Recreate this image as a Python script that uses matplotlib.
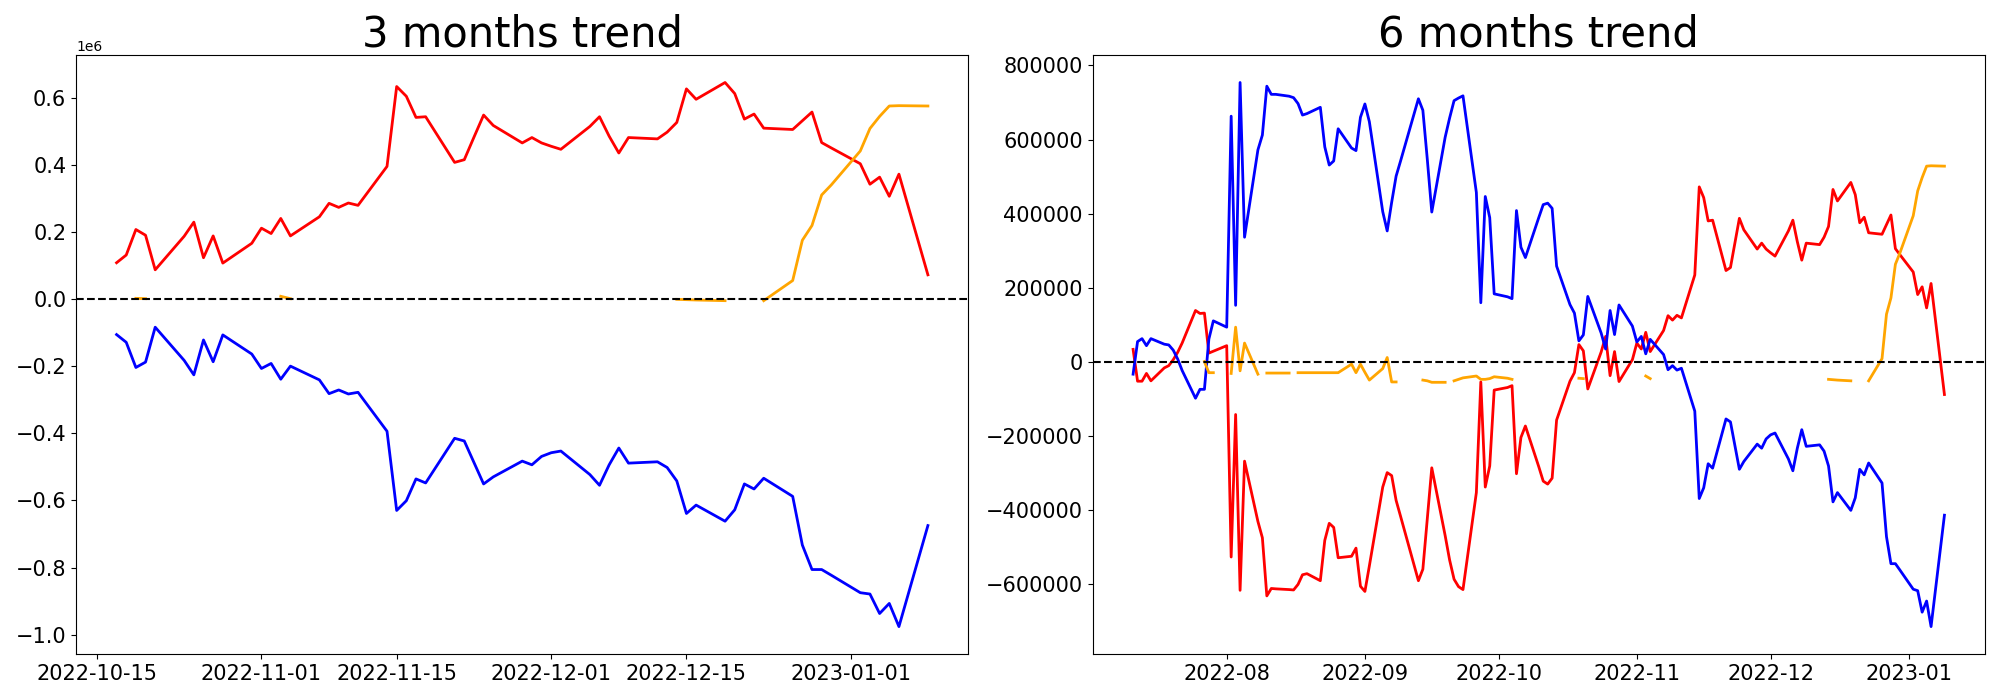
import numpy as np
import pandas as pd
import matplotlib
matplotlib.use("Agg")
import matplotlib.pyplot as plt

nan = np.nan

# 3 months window: every weekday from 2022-10-17 to 2023-01-09
dates_3m = pd.bdate_range("2022-10-17", "2023-01-09")

red_3m = [
    108000, 131000, 207000, 190000, 87000,
    187000, 229000, 123000, 188000, 107000,
    166000, 211000, 195000, 240000, 188000,
    245000, 285000, 273000, 286000, 279000,
    395000, 633000, 604000, 541000, 543000,
    407000, 415000, 482000, 548000, 517000,
    465000, 481000, 465000, 455000, 446000,
    514000, 543000, 485000, 435000, 481000,
    477000, 497000, 526000, 626000, 595000,
    645000, 612000, 536000, 551000, 509000,
    505000, 531000, 557000, 466000, 450000,
    403000, 342000, 363000, 306000, 372000,
    72000,
]
blue_3m = [
    -106000, -129000, -204000, -188000, -84000,
    -183000, -226000, -122000, -187000, -107000,
    -164000, -207000, -192000, -239000, -200000,
    -241000, -282000, -271000, -283000, -278000,
    -394000, -630000, -601000, -536000, -548000,
    -415000, -423000, -487000, -551000, -530000,
    -483000, -494000, -469000, -458000, -453000,
    -523000, -555000, -494000, -444000, -489000,
    -485000, -502000, -542000, -639000, -614000,
    -662000, -628000, -551000, -566000, -534000,
    -588000, -733000, -806000, -806000, -823000,
    -875000, -879000, -937000, -907000, -976000,
    -675000,
]
orange_3m = [
    nan, nan, 2000, 1000, nan,
    nan, nan, nan, nan, nan,
    nan, nan, nan, 8000, 1000,
    nan, nan, nan, nan, nan,
    nan, nan, nan, nan, nan,
    nan, nan, nan, nan, nan,
    nan, nan, nan, nan, nan,
    nan, nan, nan, nan, nan,
    nan, nan, -1000, -2000, -3000,
    -5000, nan, nan, nan, -5000,
    55000, 175000, 219000, 310000, 340000,
    441000, 508000, 544000, 575000, 576000,
    575000,
]

# 6 months window: every weekday from 2022-07-11 to 2023-01-09
dates_6m = pd.bdate_range("2022-07-11", "2023-01-09")

red_6m = [
    33000, -53000, -53000, -32000, -52000,
    -17000, -11000, 5000, 25000, 50000,
    138000, 130000, 131000, 23000, 28000,
    43000, -528000, -143000, -618000, -269000,
    -432000, -476000, -633000, -613000, -614000,
    -616000, -617000, -602000, -576000, -573000,
    -592000, -483000, -437000, -448000, -530000,
    -526000, -504000, -607000, -621000, -552000,
    -339000, -300000, -308000, -375000, -418000,
    -549000, -592000, -561000, -424000, -287000,
    -470000, -536000, -588000, -608000, -616000,
    -354000, -55000, -339000, -282000, -77000,
    -70000, -65000, -303000, -205000, -174000,
    -284000, -323000, -331000, -315000, -158000,
    -53000, -30000, 46000, 29000, -74000,
    26000, 68000, -38000, 27000, -54000,
    5000, 50000, 34000, 79000, 27000,
    84000, 124000, 112000, 125000, 118000,
    234000, 472000, 443000, 380000, 382000,
    246000, 254000, 321000, 387000, 356000,
    304000, 320000, 304000, 294000, 285000,
    353000, 382000, 324000, 274000, 320000,
    316000, 336000, 365000, 465000, 434000,
    484000, 451000, 375000, 390000, 348000,
    344000, 370000, 396000, 305000, 289000,
    242000, 181000, 202000, 145000, 211000,
    -89000,
]
blue_6m = [
    -34000, 54000, 62000, 43000, 62000,
    47000, 45000, 31000, 7000, -24000,
    -99000, -75000, -75000, 61000, 110000,
    93000, 663000, 152000, 754000, 336000,
    572000, 612000, 744000, 722000, 722000,
    717000, 713000, 697000, 666000, 670000,
    687000, 580000, 531000, 542000, 629000,
    577000, 570000, 660000, 696000, 648000,
    405000, 353000, 430000, 501000, 542000,
    668000, 710000, 679000, 546000, 404000,
    606000, 658000, 705000, 712000, 718000,
    457000, 159000, 446000, 389000, 183000,
    175000, 170000, 408000, 309000, 281000,
    389000, 424000, 428000, 414000, 258000,
    154000, 131000, 56000, 72000, 176000,
    77000, 34000, 138000, 73000, 153000,
    96000, 53000, 68000, 21000, 60000,
    19000, -22000, -11000, -23000, -18000,
    -134000, -370000, -341000, -276000, -288000,
    -155000, -163000, -227000, -291000, -270000,
    -223000, -234000, -209000, -198000, -193000,
    -263000, -295000, -234000, -184000, -229000,
    -225000, -242000, -282000, -379000, -354000,
    -402000, -368000, -291000, -306000, -274000,
    -328000, -473000, -546000, -546000, -563000,
    -615000, -619000, -677000, -647000, -716000,
    -415000,
]
orange_6m = [
    nan, nan, nan, nan, nan,
    nan, nan, nan, nan, nan,
    nan, nan, 0, -30000, -30000,
    nan, -32000, 93000, -25000, 50000,
    -34000, nan, -31000, -31000, -31000,
    -31000, nan, -30000, -30000, -30000,
    -30000, -30000, -30000, -30000, -30000,
    -7000, -30000, -7000, -29000, -50000,
    -19000, 11000, -55000, -55000, nan,
    nan, nan, -50000, -52000, -56000,
    -56000, nan, -52000, -48000, -44000,
    -39000, -48000, -48000, -46000, -41000,
    -45000, -48000, nan, nan, nan,
    nan, nan, nan, nan, nan,
    nan, nan, -45000, -46000, nan,
    nan, nan, nan, nan, nan,
    nan, nan, nan, -39000, -46000,
    nan, nan, nan, nan, nan,
    nan, nan, nan, nan, nan,
    nan, nan, nan, nan, nan,
    nan, nan, nan, nan, nan,
    nan, nan, nan, nan, nan,
    nan, nan, -48000, -49000, -50000,
    -52000, nan, nan, nan, -52000,
    8000, 128000, 172000, 263000, 293000,
    394000, 461000, 497000, 528000, 529000,
    528000,
]

panels = [
    ("3 months trend", dates_3m, red_3m, blue_3m, orange_3m),
    ("6 months trend", dates_6m, red_6m, blue_6m, orange_6m),
]

fig, axes = plt.subplots(1, 2, figsize=(20, 7), dpi=100)

for ax, (title, dates, red, blue, orange) in zip(axes, panels):
    ax.plot(dates, np.array(red, dtype=float), color="red", linewidth=2)
    ax.plot(dates, np.array(blue, dtype=float), color="blue", linewidth=2)
    ax.plot(dates, np.array(orange, dtype=float), color="orange", linewidth=2)
    ax.axhline(0, color="black", linestyle="--", linewidth=1.5)
    ax.set_title(title, fontsize=30)
    ax.tick_params(labelsize=15)

fig.subplots_adjust(left=0.038, right=0.9925, bottom=0.066, top=0.921, wspace=0.139)
fig.savefig("out.png", dpi=100)
